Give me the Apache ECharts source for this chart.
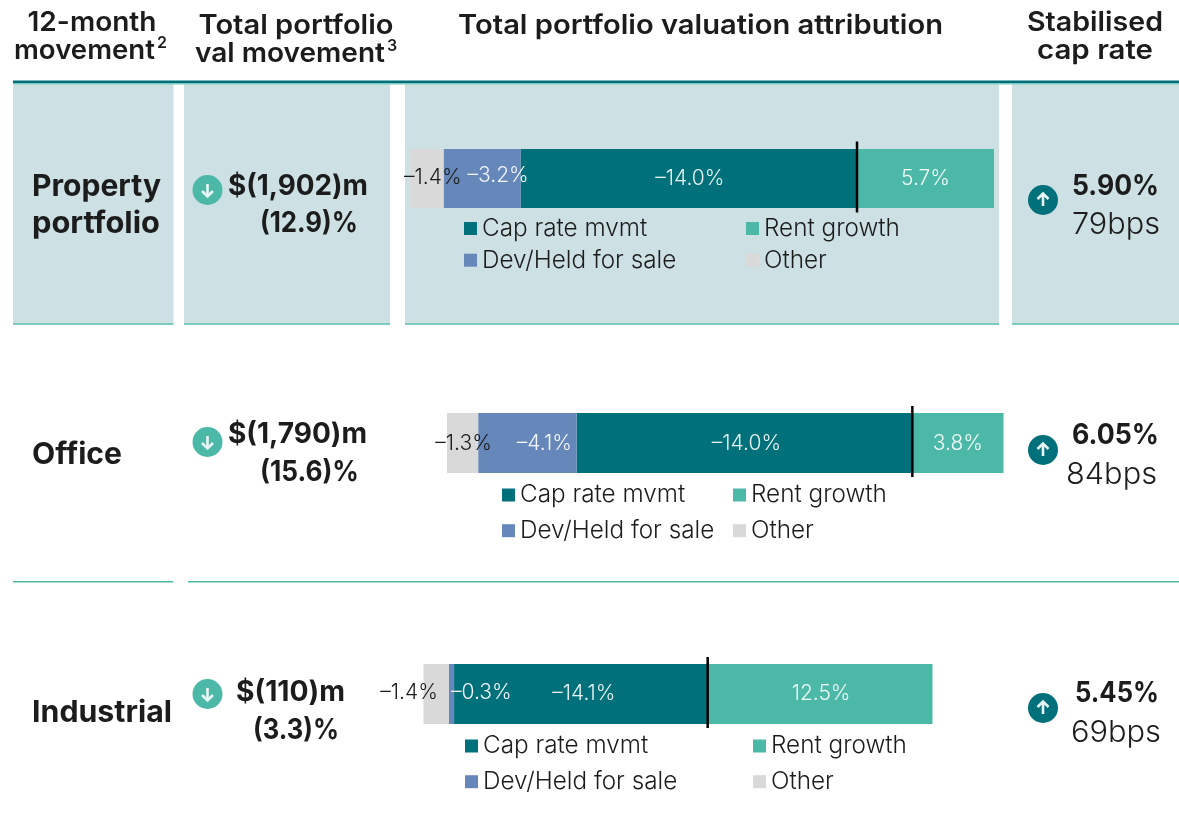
<!DOCTYPE html>
<html><head><meta charset="utf-8">
<style>html,body{margin:0;padding:0;background:#fff}#c{width:1179px;height:834px}</style>
<script src="https://cdn.jsdelivr.net/npm/echarts@6/dist/echarts.min.js"></script>
</head><body><div id="c"></div>
<script>
const categories = ['Property portfolio', 'Office', 'Industrial'];
const seriesNames = ['Cap rate mvmt', 'Dev/Held for sale', 'Other', 'Rent growth'];
const capRate = [-14.0, -14.0, -14.1];
const devHeld = [-3.2, -4.1, -0.3];
const other = [-1.4, -1.3, -1.4];
const rentGrowth = [5.7, 3.8, 12.5];
const valMovement = ['$(1,902)m', '$(1,790)m', '$(110)m'];
const valPercent = ['(12.9)%', '(15.6)%', '(3.3)%'];
const capRates = ['5.90%', '6.05%', '5.45%'];
const capBps = ['79bps', '84bps', '69bps'];

const FONT = 'Inter';
const INK = '#1c1c1c', TEAL = '#00707a', GREEN = '#4cb9a8', BLUE = '#6687b9', GREY = '#d9d9d9', PANEL = '#cde1e4', RULE = '#7ccbbf';

const layout = [
  {top:149,h:59,left:410,w:584,min:-18.6,max:5.7,lx:[464,746],ly:216.5,gap:7.7,
   off:{cap:[1,0],dev:[16,-3],oth:[6,-1],rent:[0,0]}},
  {top:413,h:60,left:447,w:556.5,min:-19.4,max:3.8,lx:[502,733],ly:483,gap:11.7,
   off:{cap:[2,1],dev:[17,1],oth:[1,1],rent:[0,1]}},
  {top:664,h:60,left:423.5,w:509,min:-15.8,max:12.5,lx:[465,753],ly:734,gap:11.7,
   off:{cap:[3,0],dev:[30,-1],oth:[-27,-1],rent:[1,0]}}
];

const lbl = (off,color) => ({show:true,position:'inside',offset:off,color,fontFamily:FONT,fontSize:21,fontWeight:300,
  formatter:p=>p.value.toFixed(1).replace('-','\u2013')+'%'});

const grid=[],xAxis=[],yAxis=[],series=[],legend=[];
layout.forEach((r,i)=>{
  grid.push({left:r.left,top:r.top,width:r.w,height:r.h,containLabel:false});
  xAxis.push({type:'value',gridIndex:i,min:r.min,max:r.max,show:false});
  yAxis.push({type:'category',gridIndex:i,data:[categories[i]],show:false});
  const stack='s'+i;
  const bar=(name,val,color,off,lc)=>({type:'bar',name,stack,xAxisIndex:i,yAxisIndex:i,barWidth:'100%',
    data:[val],itemStyle:{color},label:lbl(off,lc),silent:true,z:2});
  series.push(bar(seriesNames[0],capRate[i],TEAL,r.off.cap,'#e6f2f2'));
  series.push(bar(seriesNames[1],devHeld[i],BLUE,r.off.dev,'#f2f5fa'));
  series.push(bar(seriesNames[2],other[i],GREY,r.off.oth,INK));
  series.push(bar(seriesNames[3],rentGrowth[i],GREEN,r.off.rent,'#f2faf8'));
  series.push({type:'custom',name:'zero',xAxisIndex:i,yAxisIndex:i,clip:false,silent:true,z:5,
    data:[[0,0]],encode:{x:0,y:1},
    renderItem:(params,api)=>{
      const c=api.coord([0,0]);
      return {type:'line',shape:{x1:c[0],y1:c[1]-37,x2:c[0],y2:c[1]+34},style:{stroke:'#000',lineWidth:2.5}};
    }});
  [[seriesNames[0],seriesNames[1]],[seriesNames[3],seriesNames[2]]].forEach((d,k)=>{
    legend.push({data:d,orient:'vertical',left:r.lx[k],top:r.ly,itemWidth:13,itemHeight:13,itemGap:r.gap,
      icon:'rect',selectedMode:false,padding:0,
      textStyle:{fontFamily:FONT,fontSize:24.3,fontWeight:300,color:INK}});
  });
});

const mctx=document.createElement('canvas').getContext('2d');
const T=(text,x,y,size,weight,align,tw)=>{
  const font=`${weight} ${size}px ${FONT}`;
  const el={type:'text',z:1,style:{text,x,y,fill:INK,font,textAlign:align||'center',textVerticalAlign:'middle'}};
  if(tw){mctx.font=font;el.scaleX=tw/mctx.measureText(text).width;el.originX=x;el.originY=y;}
  return el;
};
const R=(x,y,w,h,fill)=>({type:'rect',z:0,shape:{x,y,width:w,height:h},style:{fill}});
const arrow=(cx,cy,fill,up)=>{
  const s=up?-1:1;
  return {type:'group',z:1,children:[
    {type:'circle',shape:{cx,cy,r:15},style:{fill}},
    {type:'polyline',shape:{points:[[cx,cy-6*s],[cx,cy+6.5*s]]},style:{stroke:'#e8f5f4',lineWidth:2.6,fill:null}},
    {type:'polyline',shape:{points:[[cx-5.5,cy+1*s],[cx,cy+6.5*s],[cx+5.5,cy+1*s]]},style:{stroke:'#e8f5f4',lineWidth:2.6,fill:null}}
  ]};
};

const elements=[
  R(13,84,160.5,239,PANEL),R(184,84,206,239,PANEL),R(405,84,594,239,PANEL),R(1012,84,167,239,PANEL),
  R(13,80.5,1166,2.5,TEAL),R(13,83,1166,1.5,RULE),
  R(13,323,160.5,2,RULE),R(184,323,206,2,RULE),R(405,323,594,2,RULE),R(1012,323,167,2,RULE),
  R(13,581,160,1.5,GREEN),R(188,581,991,1.5,GREEN),
  T('12-month',92,23,27,600,'center',129),
  T('movement',14,51,27,600,'left',141),T('2',157,43,16,600,'left'),
  T('Total portfolio',296,26,27,600,'center',195),
  T('val movement',195,54,27,600,'left',190),T('3',387,46,16,600,'left'),
  T('Total portfolio valuation attribution',700.5,26,27,600,'center',485),
  T('Stabilised',1095,23,27,600,'center',136),T('cap rate',1095,51,27,600,'center',116),
  T('Property',32,187,30,700,'left',129),T('portfolio',32,224,30,700,'left',128),
  T(categories[1],32,455,30,700,'left',90),T(categories[2],32,713,30,700,'left',140),
  T(valMovement[0],298,187,28,700,'center',140),T(valPercent[0],309,224,28,700,'center',98),
  T(valMovement[1],297.5,435,28,700,'center',139),T(valPercent[1],309.5,473,28,700,'center',99),
  T(valMovement[2],290.5,693,28,700,'center',109),T(valPercent[2],296,731,28,700,'center',86),
  T(capRates[0],1159,187,28,700,'right',87),T(capBps[0],1160,225,30,300,'right',88),
  T(capRates[1],1159,436,28,700,'right',87),T(capBps[1],1157,475,30,300,'right',91),
  T(capRates[2],1159,694,28,700,'right',84),T(capBps[2],1161,733,30,300,'right',90),
  arrow(207.5,190,GREEN,false),arrow(207.5,442,GREEN,false),arrow(207.5,694,GREEN,false),
  arrow(1043,200,TEAL,true),arrow(1043,450,TEAL,true),arrow(1043,708,TEAL,true)
];

const chart=echarts.init(document.getElementById('c'),null,{renderer:'canvas'});
chart.setOption({animation:false,backgroundColor:'#fff',tooltip:{show:false},
  graphic:{elements},grid,xAxis,yAxis,legend,series});
</script></body></html>
